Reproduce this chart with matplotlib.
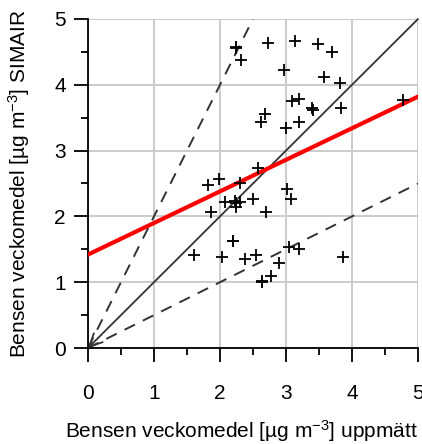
import numpy as np
import matplotlib
matplotlib.use("Agg")
from matplotlib import pyplot as plt

plt.rcParams['font.family'] = ['Liberation Sans', 'DejaVu Sans']
plt.rcParams['mathtext.fontset'] = 'custom'
plt.rcParams['mathtext.rm'] = 'Liberation Sans'
plt.rcParams['mathtext.it'] = 'Liberation Sans'

# Uppmaett (x) och SIMAIR (y), veckomedel
uppmatt = [2.24, 2.24, 2.73, 3.13, 3.48, 3.70, 2.32, 2.97, 3.57, 3.82,
           3.09, 3.19, 3.39, 3.41, 3.83, 2.68, 2.62, 3.00, 3.20, 4.77,
           2.58, 1.82, 1.98, 2.31, 2.07, 2.23, 2.25, 2.30, 2.24, 2.50,
           3.02, 3.08, 1.87, 2.70, 2.20, 2.20, 1.61, 2.03, 2.38, 2.55,
           3.05, 3.19, 3.86, 2.89, 2.78, 2.63, 2.63]
simair = [4.57, 4.56, 4.64, 4.67, 4.62, 4.50, 4.38, 4.22, 4.12, 4.02,
          3.75, 3.79, 3.65, 3.61, 3.64, 3.55, 3.43, 3.34, 3.43, 3.77,
          2.73, 2.48, 2.57, 2.51, 2.22, 2.23, 2.21, 2.22, 2.15, 2.27,
          2.41, 2.26, 2.07, 2.07, 1.63, 1.62, 1.41, 1.39, 1.36, 1.41,
          1.54, 1.50, 1.38, 1.29, 1.10, 1.02, 1.01]

# Regressionslinje (avlaest)
intercept = 1.42
slope = 0.48

fig = plt.figure(figsize=(4.22, 4.44), dpi=100)
ax = fig.add_axes([88/422, 1 - 348/444, 330/422, 329/444])

ax.set_xlim(0, 5)
ax.set_ylim(0, 5)

# Gitter
ax.grid(True, color="#cccccc", lw=1.4)
ax.set_axisbelow(True)

# Hjaelplinjer 1:1, 2:1 och 1:2
ax.annotate("", xy=(0, 0), xytext=(5, 5),
            arrowprops=dict(arrowstyle="->,head_length=0.9,head_width=0.45",
                            color="#333333", lw=1.3, shrinkA=0, shrinkB=0))
ax.plot([0, 2.5], [0, 5], color="#333333", lw=1.4, ls=(0, (6, 4.5)))
ax.plot([0, 5], [0, 2.5], color="#333333", lw=1.4, ls=(0, (6, 4.5)))

# Regressionslinje
xr = np.array([0, 5])
ax.plot(xr, intercept + slope * xr, color="#ff0000", lw=3, zorder=3)

# Punkter
ax.plot(uppmatt, simair, ls="None", marker="+", color="black",
        markersize=9, markeredgewidth=1.3, zorder=4)

# Axlar
for s in ["top", "right"]:
    ax.spines[s].set_visible(False)
for s in ["left", "bottom"]:
    ax.spines[s].set_linewidth(1.3)
    ax.spines[s].set_color("black")

ax.set_xticks(np.arange(0, 6, 1))
ax.set_yticks(np.arange(0, 6, 1))
ax.set_xticks(np.arange(0.5, 5, 1), minor=True)
ax.set_yticks(np.arange(0.5, 5, 1), minor=True)
ax.tick_params(axis="both", which="major", length=10, width=1.3,
               labelsize=15, direction="out")
ax.tick_params(axis="both", which="minor", length=5, width=1.3,
               direction="out")
ax.tick_params(axis="x", which="major", pad=16)
ax.tick_params(axis="y", which="major", pad=6)

ax.set_xlabel(r"Bensen veckomedel [µg m$^{-3}$] uppmätt", fontsize=15)
ax.set_ylabel(r"Bensen veckomedel [µg m$^{-3}$] SIMAIR", fontsize=15)
ax.xaxis.set_label_coords(0.464, -0.213)
ax.yaxis.set_label_coords(-0.17, 0.5)

fig.savefig("out.png", dpi=100)
